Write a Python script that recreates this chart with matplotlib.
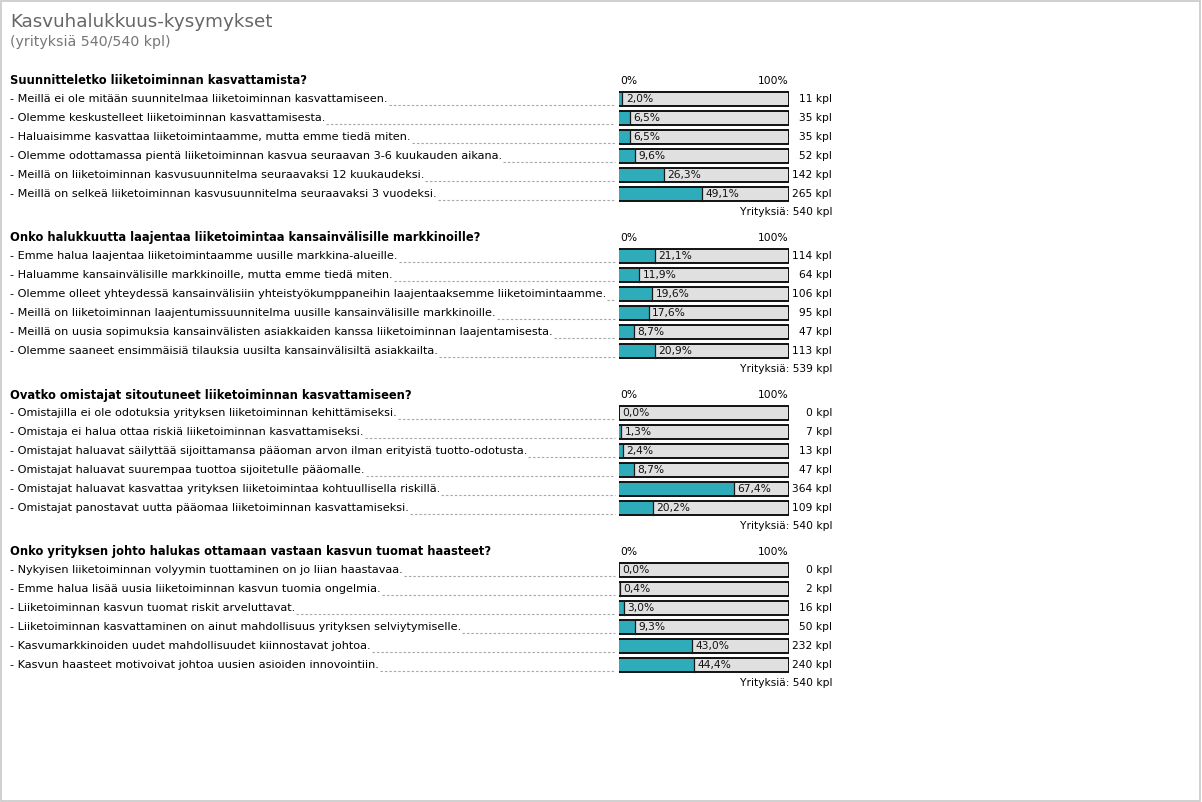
import matplotlib
matplotlib.use("Agg")
import matplotlib.pyplot as plt
from matplotlib.patches import Rectangle

W, H = 1202, 802
DPI = 100

title = "Kasvuhalukkuus-kysymykset"
subtitle = "(yrityksiä 540/540 kpl)"

questions = [
    "Suunnitteletko liiketoiminnan kasvattamista?",
    "Onko halukkuutta laajentaa liiketoimintaa kansainvälisille markkinoille?",
    "Ovatko omistajat sitoutuneet liiketoiminnan kasvattamiseen?",
    "Onko yrityksen johto halukas ottamaan vastaan kasvun tuomat haasteet?",
]

options_q1 = [
    "- Meillä ei ole mitään suunnitelmaa liiketoiminnan kasvattamiseen.",
    "- Olemme keskustelleet liiketoiminnan kasvattamisesta.",
    "- Haluaisimme kasvattaa liiketoimintaamme, mutta emme tiedä miten.",
    "- Olemme odottamassa pientä liiketoiminnan kasvua seuraavan 3-6 kuukauden aikana.",
    "- Meillä on liiketoiminnan kasvusuunnitelma seuraavaksi 12 kuukaudeksi.",
    "- Meillä on selkeä liiketoiminnan kasvusuunnitelma seuraavaksi 3 vuodeksi.",
]
options_q2 = [
    "- Emme halua laajentaa liiketoimintaamme uusille markkina-alueille.",
    "- Haluamme kansainvälisille markkinoille, mutta emme tiedä miten.",
    "- Olemme olleet yhteydessä kansainvälisiin yhteistyökumppaneihin laajentaaksemme liiketoimintaamme.",
    "- Meillä on liiketoiminnan laajentumissuunnitelma uusille kansainvälisille markkinoille.",
    "- Meillä on uusia sopimuksia kansainvälisten asiakkaiden kanssa liiketoiminnan laajentamisesta.",
    "- Olemme saaneet ensimmäisiä tilauksia uusilta kansainvälisiltä asiakkailta.",
]
options_q3 = [
    "- Omistajilla ei ole odotuksia yrityksen liiketoiminnan kehittämiseksi.",
    "- Omistaja ei halua ottaa riskiä liiketoiminnan kasvattamiseksi.",
    "- Omistajat haluavat säilyttää sijoittamansa pääoman arvon ilman erityistä tuotto-odotusta.",
    "- Omistajat haluavat suurempaa tuottoa sijoitetulle pääomalle.",
    "- Omistajat haluavat kasvattaa yrityksen liiketoimintaa kohtuullisella riskillä.",
    "- Omistajat panostavat uutta pääomaa liiketoiminnan kasvattamiseksi.",
]
options_q4 = [
    "- Nykyisen liiketoiminnan volyymin tuottaminen on jo liian haastavaa.",
    "- Emme halua lisää uusia liiketoiminnan kasvun tuomia ongelmia.",
    "- Liiketoiminnan kasvun tuomat riskit arveluttavat.",
    "- Liiketoiminnan kasvattaminen on ainut mahdollisuus yrityksen selviytymiselle.",
    "- Kasvumarkkinoiden uudet mahdollisuudet kiinnostavat johtoa.",
    "- Kasvun haasteet motivoivat johtoa uusien asioiden innovointiin.",
]

pct_q1 = [2.0, 6.5, 6.5, 9.6, 26.3, 49.1]
pct_q2 = [21.1, 11.9, 19.6, 17.6, 8.7, 20.9]
pct_q3 = [0.0, 1.3, 2.4, 8.7, 67.4, 20.2]
pct_q4 = [0.0, 0.4, 3.0, 9.3, 43.0, 44.4]

count_q1 = [11, 35, 35, 52, 142, 265]
count_q2 = [114, 64, 106, 95, 47, 113]
count_q3 = [0, 7, 13, 47, 364, 109]
count_q4 = [0, 2, 16, 50, 232, 240]

totals = [540, 539, 540, 540]

options = [options_q1, options_q2, options_q3, options_q4]
pcts = [pct_q1, pct_q2, pct_q3, pct_q4]
counts = [count_q1, count_q2, count_q3, count_q4]

TEAL = "#2eacb9"
GREY = "#e0e0e0"
FONT = "DejaVu Sans"
FS = 8.1      # item text
FSN = 7.7     # numbers / small labels
FSH = 8.3     # bold headers

fig = plt.figure(figsize=(W / DPI, H / DPI), dpi=DPI)
bg = fig.add_axes([0, 0, 1, 1])
bg.set_xlim(0, W)
bg.set_ylim(H, 0)
bg.axis("off")

# outer border
fig.patches.append(Rectangle((0.5 / W, 1.5 / H), (W - 2.5) / W, (H - 2.5) / H,
                             transform=fig.transFigure, fill=False,
                             edgecolor="#c8c8c8", linewidth=1.2))

bg.text(10, 22, title, fontsize=13.2, color="#666666", family=FONT, va="center", ha="left")
bg.text(10, 42, subtitle, fontsize=10.2, color="#777777", family=FONT, va="center", ha="left")

BAR_L, BAR_R = 619, 789
ROW = 19
fig.canvas.draw()
renderer = fig.canvas.get_renderer()

for s, q in enumerate(questions):
    hy = 81 + 157 * s
    bg.text(10, hy, q, fontsize=FSH, fontweight="bold", color="#000000",
            family=FONT, va="center", ha="left")
    bg.text(BAR_L + 1, hy, "0%", fontsize=FSN, color="#000000", family=FONT, va="center", ha="left")
    bg.text(BAR_R, hy, "100%", fontsize=FSN, color="#000000", family=FONT, va="center", ha="right")

    top = hy + 18 - ROW / 2
    ax = fig.add_axes([BAR_L / W, 1 - (top + 6 * ROW) / H, (BAR_R - BAR_L) / W, 6 * ROW / H])
    ax.set_xlim(0, 100)
    ax.set_ylim(5.5, -0.5)
    ax.axis("off")
    n = len(options[s])
    ys = list(range(n))
    ax.barh(ys, [100] * n, height=14 / ROW, color=GREY, edgecolor="black", linewidth=1.3, zorder=1)
    ax.barh(ys, pcts[s], height=12.5 / ROW, color=TEAL, edgecolor="none", zorder=2)
    for i, (v, c) in enumerate(zip(pcts[s], counts[s])):
        if v > 0:
            ax.plot([v, v], [i - 6.5 / ROW, i + 6.5 / ROW], color="#1a1a1a", lw=0.9, zorder=3)
        ax.annotate(f"{v:.1f}".replace(".", ",") + "%", (v, i), xytext=(2.4, -0.3),
                    textcoords="offset points", fontsize=FSN, family=FONT,
                    va="center", ha="left", color="#111111", zorder=4)
        cy = hy + 18 + ROW * i
        t = bg.text(10, cy, options[s][i], fontsize=FS, color="#000000", family=FONT,
                    va="center", ha="left")
        bg.text(832, cy, f"{c} kpl", fontsize=FSN, color="#000000", family=FONT,
                va="center", ha="right")
        ext = t.get_window_extent(renderer)
        x_end = ext.x1 + 1
        bg.plot([x_end, BAR_L - 4], [cy + 6, cy + 6], color="#a8a8a8", lw=0.8,
                linestyle=(0, (2.2, 1.8)))
    bg.text(832, hy + 131, f"Yrityksiä: {totals[s]} kpl", fontsize=FSN, color="#000000",
            family=FONT, va="center", ha="right")

fig.savefig("out.png", dpi=DPI)
